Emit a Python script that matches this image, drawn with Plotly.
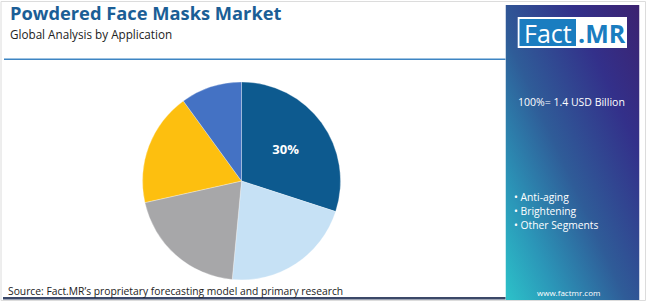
import base64
import plotly.graph_objects as go

# ---- data ----
segments = ["Segment 1", "Segment 2", "Segment 3", "Segment 4", "Segment 5"]
shares = [30, 21.5, 20, 18.5, 10]
slice_text = ["30%", "", "", "", ""]
slice_colors = ["#0d5a8f", "#c6e1f5", "#a7a7a9", "#fdbf0f", "#4472c4"]
legend_items = ["Anti-aging", "Brightening", "Other Segments"]

title = "Powdered Face Masks Market"
subtitle = "Global Analysis by Application"
market_size = "100%= 1.4 USD Billion"
source = "Source: Fact.MR\u2019s proprietary forecasting model and primary research"
website = "www.factmr.com"

W, H = 650, 302


def px(x):
    return x / W


def py(y):
    return 1 - y / H


# pie geometry (pixels)
cx, cy, r = 241.5, 181.0, 99.0

fig = go.Figure()
fig.add_trace(go.Pie(
    labels=segments, values=shares, text=slice_text,
    textinfo="text", textposition="inside", insidetextorientation="horizontal",
    textfont=dict(family="Open Sans", size=13, color="white", weight="bold"),
    marker=dict(colors=slice_colors, line=dict(color="white", width=0.3)),
    sort=False, direction="clockwise", rotation=0,
    domain=dict(x=[px(cx - r), px(cx + r)], y=[py(cy + r), py(cy - r)]),
    showlegend=False, hoverinfo="label+percent",
))

# gradient panel as SVG image
svg = """<svg xmlns='http://www.w3.org/2000/svg' width='134' height='295' viewBox='0 0 134 295' preserveAspectRatio='none'>
<defs><linearGradient id='g' x1='1' y1='0' x2='0' y2='1'>
<stop offset='0' stop-color='#3c2270'/>
<stop offset='0.25' stop-color='#33308a'/>
<stop offset='0.55' stop-color='#2f5c98'/>
<stop offset='0.8' stop-color='#2b96b8'/>
<stop offset='1' stop-color='#2cc2c9'/>
</linearGradient></defs>
<rect width='134' height='295' fill='url(#g)'/></svg>"""
src = "data:image/svg+xml;base64," + base64.b64encode(svg.encode()).decode()
px0, px1, pt, pb = 505.5, 639.5, 5, 300
fig.add_layout_image(dict(
    source=src, xref="paper", yref="paper", x=px(px0), y=py(pt),
    sizex=px(px1) - px(px0), sizey=(pb - pt) / H,
    xanchor="left", yanchor="top", sizing="stretch", layer="below"))

shapes = [
    # outer border
    dict(type="rect", x0=px(1), x1=px(645.5), y0=py(300.5), y1=py(1.5),
         line=dict(color="#dcdcdc", width=1), fillcolor="rgba(0,0,0,0)"),
    # top blue rule
    dict(type="line", x0=px(4), x1=px(505.5), y0=py(59.3), y1=py(59.3),
         line=dict(color="#3d85c3", width=1.5)),
    # bottom navy rule
    dict(type="line", x0=px(3), x1=px(505.5), y0=py(298.3), y1=py(298.3),
         line=dict(color="#3b4868", width=2.5)),
    # logo white box
    dict(type="rect", x0=px(517.7), x1=px(627), y0=py(48), y1=py(17),
         line=dict(width=0), fillcolor="white"),
    # logo blue box
    dict(type="rect", x0=px(519.5), x1=px(576), y0=py(46), y1=py(19),
         line=dict(width=0), fillcolor="#1a7dc0"),
]
fig.update_layout(shapes=shapes)

ann = []
ann.append(dict(text=f"<b>{title}</b>", x=px(9), y=py(12.5), xanchor="left", yanchor="middle",
                font=dict(family="Open Sans", size=18.3, color="#1b5e96"), borderpad=0))
ann.append(dict(text=subtitle, x=px(9), y=py(34), xanchor="left", yanchor="middle",
                font=dict(family="Open Sans", size=11.7, color="#222222"), borderpad=0))
ann.append(dict(text="Fact", x=px(547.5), y=py(32.5), xanchor="center", yanchor="middle",
                font=dict(family="Open Sans", size=25, color="white")))
ann.append(dict(text="<b>.MR</b>", x=px(601.5), y=py(32.5), xanchor="center", yanchor="middle",
                font=dict(family="Open Sans", size=25, color="#1a7dc0")))
ann.append(dict(text=market_size, x=px(516), y=py(101.5), xanchor="left", yanchor="middle",
                font=dict(family="Open Sans", size=10.5, color="white")))
for i, item in enumerate(legend_items):
    ann.append(dict(text="\u2022 " + item, x=px(511.5), y=py(196.5 + 14.3 * i),
                    xanchor="left", yanchor="middle",
                    font=dict(family="Open Sans", size=10.3, color="white")))
ann.append(dict(text=website, x=px(568), y=py(292), xanchor="center", yanchor="middle",
                font=dict(family="Open Sans", size=8, color="white")))
ann.append(dict(text=source, x=px(6), y=py(290.5), xanchor="left", yanchor="middle",
                font=dict(family="Open Sans", size=10.3, color="#222222")))
for a in ann:
    a.update(xref="paper", yref="paper", showarrow=False)

fig.update_layout(
    annotations=ann, width=W, height=H,
    margin=dict(l=0, r=0, t=0, b=0),
    paper_bgcolor="white", plot_bgcolor="white",
)

fig.write_html("out.html")
